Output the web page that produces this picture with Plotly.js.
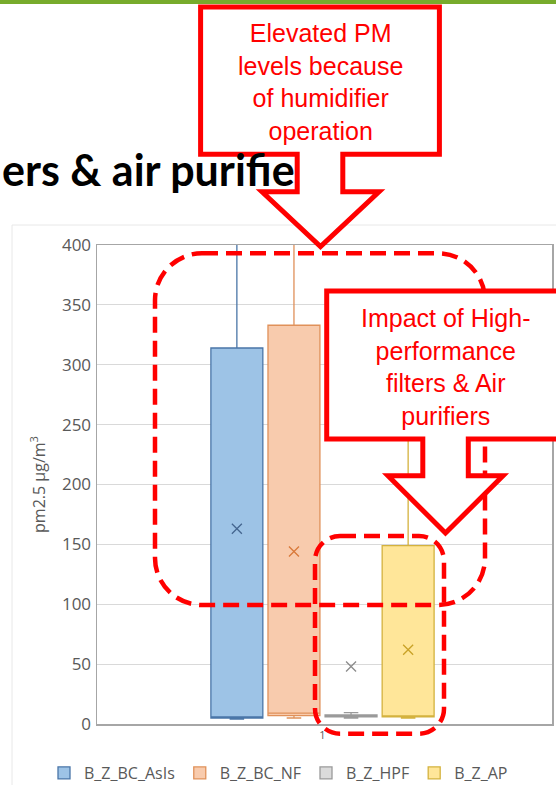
<!DOCTYPE html>
<html>
<head>
<meta charset="utf-8">
<script src="https://cdn.plot.ly/plotly-3.0.1.min.js"></script>
<style>html,body{margin:0;padding:0;background:#fff;}#chart{width:556px;height:785px;}</style>
</head>
<body>
<div id="chart"></div>
<script>
// ---- data ----
const categories = ['1'];
const series = ['B_Z_BC_AsIs', 'B_Z_BC_NF', 'B_Z_HPF', 'B_Z_AP'];
const lowerFence = [4, 5, 5, 5];
const q1 = [5, 7, 6, 6];
const median = [6, 9, 6.5, 6.5];
const q3 = [314, 333, 7.5, 149];
const upperFence = [480, 470, 9.5, 300];
const mean = [163, 144, 48, 62];
const yTicks = [0, 50, 100, 150, 200, 250, 300, 350, 400];
const titleText = 'ers &amp; air purifie';
const callout1Text = 'Elevated PM<br>levels because<br>of humidifier<br>operation';
const callout2Text = 'Impact of High-<br>performance<br>filters &amp; Air<br>purifiers';

// ---- styles ----
const fills = ['#9DC3E6', '#F8CBAD', '#DBDBDB', '#FFE699'];
const lines = ['#4A76A8', '#E0915A', '#9A9A9A', '#D4B23E'];
const meanColors = ['#44658F', '#D9793A', '#8C8C8C', '#C9A227'];

// layout geometry (pixels)
const L = 97, T = 245, W = 455, H = 479;
const px = x => (x - L) / W;
const py = y => (T + H - y) / H;
const P = (x, y) => px(x).toFixed(5) + ',' + py(y).toFixed(5);

const traces = series.map((name, i) => ({
  type: 'box',
  name: name,
  x: [i],
  q1: [q1[i]],
  median: [median[i]],
  q3: [q3[i]],
  lowerfence: [lowerFence[i]],
  upperfence: [upperFence[i]],
  width: 0.91,
  whiskerwidth: 0.28,
  fillcolor: fills[i],
  line: {color: lines[i], width: 1.3},
  boxpoints: false,
  hoverinfo: 'skip'
}));
traces.push({
  type: 'scatter',
  mode: 'markers',
  x: series.map((s, i) => i),
  y: mean,
  showlegend: false,
  hoverinfo: 'skip',
  marker: {symbol: 'x-thin-open', size: 10, color: meanColors,
           line: {color: meanColors, width: 1.3}}
});

function rrect(x0, y0, x1, y1, r) {
  const k = 0.5523 * r;
  return `M${P(x0 + r, y0)}L${P(x1 - r, y0)}C${P(x1 - r + k, y0)} ${P(x1, y0 + r - k)} ${P(x1, y0 + r)}` +
         `L${P(x1, y1 - r)}C${P(x1, y1 - r + k)} ${P(x1 - r + k, y1)} ${P(x1 - r, y1)}` +
         `L${P(x0 + r, y1)}C${P(x0 + r - k, y1)} ${P(x0, y1 - r + k)} ${P(x0, y1 - r)}` +
         `L${P(x0, y0 + r)}C${P(x0, y0 + r - k)} ${P(x0 + r - k, y0)} ${P(x0 + r, y0)}Z`;
}

const callout1 = `M${P(200.6, 7)}L${P(439.4, 7)}L${P(439.4, 154.3)}L${P(342.8, 154.3)}L${P(342.8, 191.7)}` +
  `L${P(379, 191.7)}L${P(320.5, 246.5)}L${P(262, 191.7)}L${P(297.2, 191.7)}L${P(297.2, 154.3)}L${P(200.6, 154.3)}Z`;
const callout2 = `M${P(326.7, 291)}L${P(580, 291)}L${P(580, 439)}L${P(468.3, 439)}L${P(468.3, 475.8)}` +
  `L${P(503, 475.8)}L${P(445.5, 533)}L${P(388, 475.8)}L${P(422.8, 475.8)}L${P(422.8, 439)}L${P(326.7, 439)}Z`;

const red = '#FF0000';
const shapes = [
  {type: 'rect', xref: 'paper', yref: 'paper', x0: px(-5), x1: px(561), y0: py(4), y1: py(-5),
   fillcolor: '#77AB2C', line: {width: 0}, layer: 'above'},
  {type: 'rect', xref: 'paper', yref: 'paper', x0: px(12), x1: px(580), y0: py(800), y1: py(225),
   fillcolor: 'rgba(0,0,0,0)', line: {color: '#E8E8E8', width: 1}, layer: 'below'},
  {type: 'path', xref: 'paper', yref: 'paper', path: rrect(155, 253.3, 485, 605, 47),
   line: {color: red, width: 4.5, dash: '16px,8px'}, layer: 'above'},
  {type: 'path', xref: 'paper', yref: 'paper', path: callout2,
   fillcolor: '#FFFFFF', line: {color: red, width: 5}, layer: 'above'},
  {type: 'path', xref: 'paper', yref: 'paper', path: rrect(315, 536, 444, 733.7, 25),
   line: {color: red, width: 4.5, dash: '16px,8px'}, layer: 'above'},
  {type: 'path', xref: 'paper', yref: 'paper', path: callout1,
   fillcolor: '#FFFFFF', line: {color: red, width: 5}, layer: 'above'}
];

const annotations = [
  {xref: 'paper', yref: 'paper', x: px(297), y: py(170), xanchor: 'right', yanchor: 'middle',
   text: titleText, showarrow: false, font: {family: 'Lato', size: 43, color: '#000000', weight: 700}},
  {xref: 'paper', yref: 'paper', x: px(320), y: py(82), xanchor: 'center', yanchor: 'middle',
   text: callout1Text, showarrow: false, align: 'center',
   font: {family: 'Liberation Sans, Arial', size: 25, color: red}},
  {xref: 'paper', yref: 'paper', x: px(445.8), y: py(367), xanchor: 'center', yanchor: 'middle',
   text: callout2Text, showarrow: false, align: 'center',
   font: {family: 'Liberation Sans, Arial', size: 25, color: red}}
];

const layout = {
  width: 556, height: 785,
  margin: {l: L, r: 556 - L - W, t: T, b: 785 - T - H, pad: 0, autoexpand: false},
  paper_bgcolor: '#FFFFFF', plot_bgcolor: '#FFFFFF',
  showlegend: true,
  legend: {orientation: 'h', x: px(44), xanchor: 'left', y: py(773), yanchor: 'middle',
           font: {family: 'Open Sans', size: 16, color: '#595959'}, itemclick: false,
           bgcolor: 'rgba(0,0,0,0)', traceorder: 'normal'},
  xaxis: {range: [-2.45, 5.52], tickvals: [1.5], ticktext: categories, showgrid: false,
          zeroline: false, showline: true, mirror: true, linecolor: '#A6A6A6', linewidth: 1.5,
          ticks: '', automargin: false, tickfont: {family: 'Open Sans', size: 11, color: '#595959'}, fixedrange: true},
  yaxis: {range: [0, 400], tickvals: yTicks, showgrid: true, gridcolor: '#D9D9D9', gridwidth: 1,
          zeroline: false, showline: true, mirror: true, linecolor: '#A6A6A6', linewidth: 1.5,
          ticks: '', ticklabelstandoff: 1, automargin: false,
          tickfont: {family: 'Open Sans', size: 17, color: '#595959'},
          title: {text: 'pm2.5 μg/m<sup>3</sup>', standoff: 12,
                  font: {family: 'Open Sans', size: 16, color: '#595959'}}, fixedrange: true},
  shapes: shapes,
  annotations: annotations
};

Plotly.newPlot('chart', traces, layout, {displayModeBar: false, staticPlot: true});
</script>
</body>
</html>
